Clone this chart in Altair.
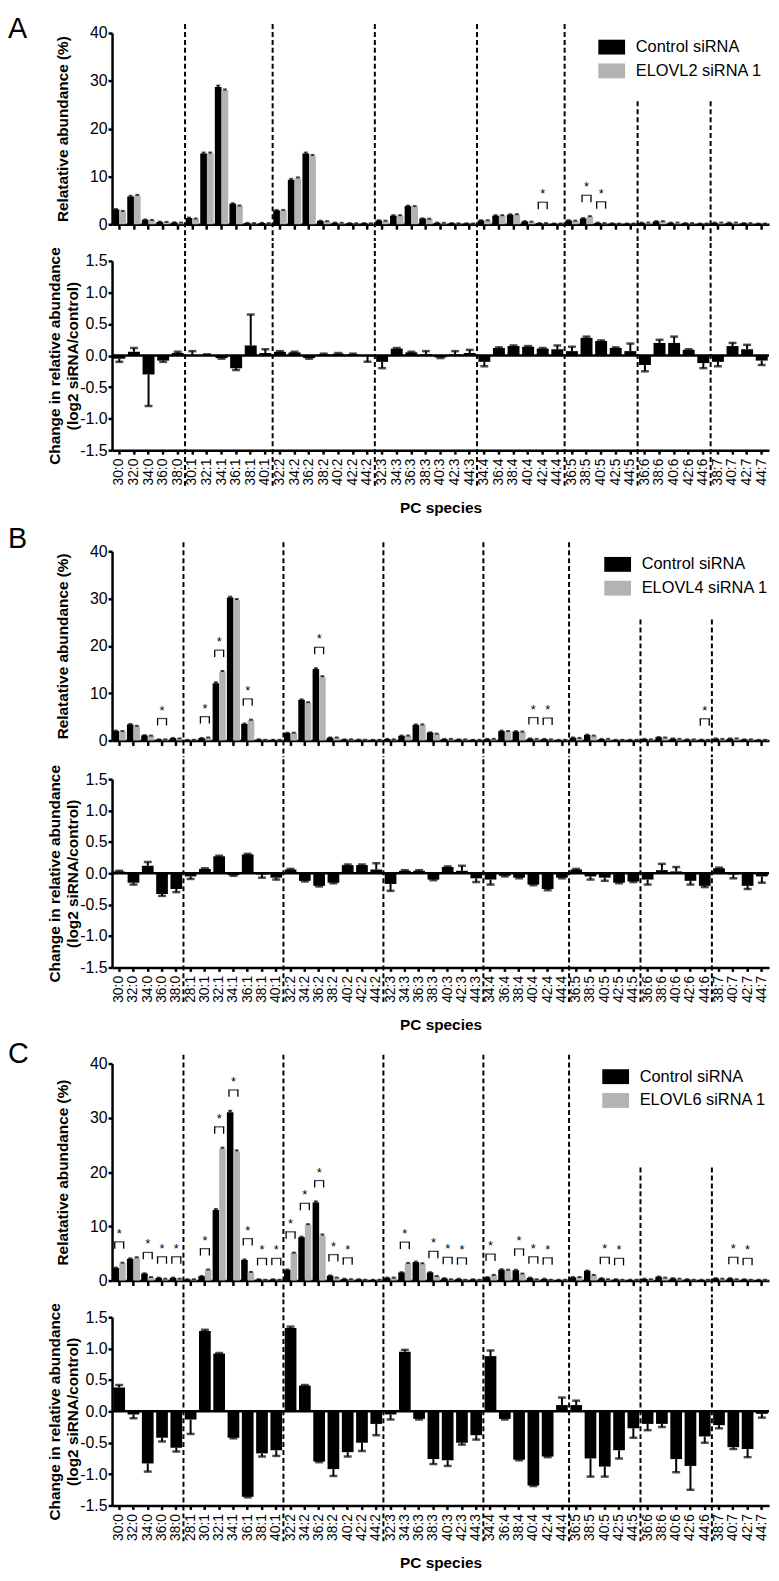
import altair as alt
import pandas as pd

FONT = "Liberation Sans"
GREY = "#b3b3b3"
LAB_C = "Control siRNA"

cats_A = ["30:0", "32:0", "34:0", "36:0", "38:0",
          "30:1", "32:1", "34:1", "36:1", "38:1", "40:1",
          "32:2", "34:2", "36:2", "38:2", "40:2", "42:2", "44:2",
          "32:3", "34:3", "36:3", "38:3", "40:3", "42:3", "44:3",
          "34:4", "36:4", "38:4", "40:4", "42:4", "44:4",
          "36:5", "38:5", "40:5", "42:5", "44:5",
          "36:6", "38:6", "40:6", "42:6", "44:6",
          "38:7", "40:7", "42:7", "44:7"]
cats_BC = ["30:0", "32:0", "34:0", "36:0", "38:0",
           "28:1", "30:1", "32:1", "34:1", "36:1", "38:1", "40:1",
           "32:2", "34:2", "36:2", "38:2", "40:2", "42:2", "44:2",
           "32:3", "34:3", "36:3", "38:3", "40:3", "42:3", "44:3",
           "34:4", "36:4", "38:4", "40:4", "42:4", "44:4",
           "36:5", "38:5", "40:5", "42:5", "44:5",
           "36:6", "38:6", "40:6", "42:6", "44:6",
           "38:7", "40:7", "42:7", "44:7"]

seps_A = ["30:1", "32:2", "32:3", "34:4", "36:5"]
short_A = ["36:6", "38:7"]
seps_BC = ["28:1", "32:2", "32:3", "34:4", "36:5"]
short_BC = ["36:6", "38:7"]

# ---------------- Panel A ----------------
ctrl_A = [3.1, 5.8, 0.95, 0.5, 0.35,
          1.3, 14.8, 28.7, 4.3, 0.25, 0.25,
          2.9, 9.3, 14.8, 0.7, 0.3, 0.2, 0.2,
          0.8, 1.8, 3.8, 1.2, 0.3, 0.2, 0.15,
          0.8, 1.8, 2.0, 0.6, 0.2, 0.1,
          0.8, 1.2, 0.3, 0.15, 0.1,
          0.3, 0.6, 0.3, 0.2, 0.1,
          0.3, 0.3, 0.2, 0.1]
sirna_A = [2.7, 6.0, 0.85, 0.45, 0.3,
           1.1, 14.8, 28.0, 3.8, 0.2, 0.2,
           2.9, 9.6, 14.3, 0.6, 0.25, 0.15, 0.15,
           0.7, 1.8, 3.7, 1.1, 0.25, 0.15, 0.1,
           0.8, 1.8, 2.0, 0.5, 0.2, 0.1,
           0.7, 1.6, 0.2, 0.1, 0.1,
           0.3, 0.6, 0.3, 0.2, 0.1,
           0.3, 0.3, 0.2, 0.1]
ctrl_err_A = [0.1, 0.15, 0.05, 0.05, 0.05,
              0.1, 0.2, 0.3, 0.1, 0.05, 0.05,
              0.1, 0.2, 0.2, 0.05, 0.05, 0.05, 0.05,
              0.05, 0.1, 0.1, 0.05, 0.05, 0.05, 0.05,
              0.05, 0.1, 0.1, 0.05, 0.05, 0.05,
              0.05, 0.1, 0.05, 0.05, 0.05,
              0.05, 0.05, 0.05, 0.05, 0.05,
              0.05, 0.05, 0.05, 0.05]
sirna_err_A = [0.1, 0.15, 0.05, 0.05, 0.05,
               0.1, 0.2, 0.2, 0.1, 0.05, 0.05,
               0.1, 0.2, 0.2, 0.05, 0.05, 0.05, 0.05,
               0.05, 0.1, 0.1, 0.05, 0.05, 0.05, 0.05,
               0.05, 0.1, 0.1, 0.05, 0.05, 0.05,
               0.05, 0.1, 0.05, 0.05, 0.05,
               0.05, 0.05, 0.05, 0.05, 0.05,
               0.05, 0.05, 0.05, 0.05]
log2_A = [-0.05, 0.06, -0.3, -0.08, 0.04,
          0.01, 0.01, -0.04, -0.2, 0.16, 0.04,
          0.06, 0.05, -0.04, 0.02, 0.03, 0.02, -0.01,
          -0.1, 0.11, 0.05, 0.02, -0.03, 0.02, 0.04,
          -0.1, 0.12, 0.15, 0.14, 0.11, 0.1,
          0.07, 0.28, 0.23, 0.12, 0.07,
          -0.15, 0.2, 0.2, 0.09, -0.12,
          -0.1, 0.15, 0.1, -0.08]
log2_err_A = [0.05, 0.06, 0.5, 0.02, 0.02,
              0.06, 0.01, 0.01, 0.03, 0.49, 0.06,
              0.01, 0.01, 0.01, 0.01, 0.01, 0.01, 0.09,
              0.1, 0.01, 0.01, 0.05, 0.01, 0.05, 0.05,
              0.07, 0.01, 0.01, 0.01, 0.01, 0.06,
              0.07, 0.02, 0.01, 0.01, 0.12,
              0.1, 0.05, 0.1, 0.01, 0.08,
              0.07, 0.05, 0.07, 0.07]
sig_A = ["42:4", "38:5", "40:5"]

# ---------------- Panel B ----------------
ctrl_B = [2.0, 3.4, 1.1, 0.2, 0.5,
          0.1, 0.5, 12.1, 30.2, 3.5, 0.2, 0.1,
          1.6, 8.6, 15.1, 0.6, 0.2, 0.15, 0.1,
          0.3, 1.0, 3.3, 1.7, 0.3, 0.2, 0.1,
          0.3, 2.0, 1.9, 0.4, 0.3, 0.1,
          0.6, 1.2, 0.3, 0.1, 0.1,
          0.3, 0.7, 0.4, 0.2, 0.15,
          0.4, 0.4, 0.2, 0.1]
sirna_B = [1.9, 3.0, 1.0, 0.2, 0.4,
           0.1, 0.6, 14.5, 29.7, 4.3, 0.1, 0.1,
           1.6, 8.0, 13.4, 0.6, 0.2, 0.1, 0.1,
           0.2, 1.0, 3.3, 1.4, 0.3, 0.2, 0.1,
           0.3, 1.9, 1.8, 0.3, 0.2, 0.1,
           0.5, 1.0, 0.3, 0.1, 0.1,
           0.2, 0.6, 0.3, 0.2, 0.1,
           0.3, 0.4, 0.2, 0.1]
ctrl_err_B = [0.1, 0.1, 0.05, 0.05, 0.05,
              0.05, 0.05, 0.2, 0.2, 0.1, 0.05, 0.05,
              0.05, 0.1, 0.2, 0.05, 0.05, 0.05, 0.05,
              0.05, 0.05, 0.1, 0.05, 0.05, 0.05, 0.05,
              0.05, 0.1, 0.1, 0.05, 0.05, 0.05,
              0.05, 0.05, 0.05, 0.05, 0.05,
              0.05, 0.05, 0.05, 0.05, 0.05,
              0.05, 0.05, 0.05, 0.05]
sirna_err_B = [0.1, 0.1, 0.05, 0.05, 0.05,
               0.05, 0.05, 0.2, 0.2, 0.1, 0.05, 0.05,
               0.05, 0.1, 0.2, 0.05, 0.05, 0.05, 0.05,
               0.05, 0.05, 0.1, 0.05, 0.05, 0.05, 0.05,
               0.05, 0.1, 0.1, 0.05, 0.05, 0.05,
               0.05, 0.05, 0.05, 0.05, 0.05,
               0.05, 0.05, 0.05, 0.05, 0.05,
               0.05, 0.05, 0.05, 0.05]
log2_B = [0.03, -0.15, 0.12, -0.33, -0.25,
          -0.05, 0.07, 0.27, -0.03, 0.3, -0.02, -0.07,
          0.06, -0.12, -0.2, -0.15, 0.13, 0.13, 0.06,
          -0.17, 0.04, 0.04, -0.1, 0.1, 0.04, -0.08,
          -0.1, -0.04, -0.07, -0.18, -0.25, -0.07,
          0.06, -0.05, -0.07, -0.15, -0.13,
          -0.1, 0.05, 0.03, -0.12, -0.2,
          0.08, -0.02, -0.2, -0.05]
log2_err_B = [0.01, 0.03, 0.06, 0.03, 0.05,
              0.04, 0.01, 0.01, 0.01, 0.01, 0.05, 0.03,
              0.01, 0.01, 0.01, 0.01, 0.01, 0.01, 0.1,
              0.11, 0.01, 0.01, 0.01, 0.01, 0.08, 0.06,
              0.08, 0.01, 0.01, 0.01, 0.02, 0.01,
              0.01, 0.05, 0.05, 0.01, 0.01,
              0.08, 0.1, 0.07, 0.06, 0.02,
              0.01, 0.06, 0.05, 0.1]
sig_B = ["36:0", "30:1", "32:1", "36:1", "36:2", "40:4", "42:4", "44:6"]

# ---------------- Panel C ----------------
ctrl_C = [2.3, 4.0, 1.3, 0.5, 0.5,
          0.2, 0.8, 13.0, 31.0, 3.8, 0.2, 0.2,
          2.0, 8.0, 14.4, 0.9, 0.3, 0.2, 0.1,
          0.5, 1.5, 3.4, 1.5, 0.4, 0.3, 0.2,
          0.6, 2.0, 1.9, 0.5, 0.3, 0.1,
          0.6, 1.8, 0.4, 0.2, 0.1,
          0.3, 0.7, 0.4, 0.2, 0.1,
          0.4, 0.4, 0.2, 0.1]
sirna_C = [3.2, 4.2, 0.6, 0.3, 0.3,
           0.2, 2.0, 24.3, 23.8, 1.5, 0.1, 0.1,
           5.1, 10.3, 8.3, 0.5, 0.2, 0.1, 0.1,
           0.5, 3.2, 3.1, 0.8, 0.2, 0.1, 0.1,
           1.0, 1.9, 1.2, 0.2, 0.1, 0.1,
           0.6, 1.0, 0.2, 0.1, 0.1,
           0.2, 0.5, 0.3, 0.1, 0.1,
           0.3, 0.2, 0.1, 0.1]
ctrl_err_C = [0.1, 0.1, 0.05, 0.05, 0.05,
              0.05, 0.05, 0.2, 0.3, 0.1, 0.05, 0.05,
              0.05, 0.1, 0.2, 0.05, 0.05, 0.05, 0.05,
              0.05, 0.05, 0.1, 0.05, 0.05, 0.05, 0.05,
              0.05, 0.1, 0.1, 0.05, 0.05, 0.05,
              0.05, 0.05, 0.05, 0.05, 0.05,
              0.05, 0.05, 0.05, 0.05, 0.05,
              0.05, 0.05, 0.05, 0.05]
sirna_err_C = [0.1, 0.1, 0.05, 0.05, 0.05,
               0.05, 0.05, 0.2, 0.2, 0.1, 0.05, 0.05,
               0.05, 0.1, 0.2, 0.05, 0.05, 0.05, 0.05,
               0.05, 0.05, 0.1, 0.05, 0.05, 0.05, 0.05,
               0.05, 0.1, 0.1, 0.05, 0.05, 0.05,
               0.05, 0.05, 0.05, 0.05, 0.05,
               0.05, 0.05, 0.05, 0.05, 0.05,
               0.05, 0.05, 0.05, 0.05]
log2_C = [0.38, -0.05, -0.83, -0.42, -0.58,
          -0.13, 1.28, 0.92, -0.42, -1.36, -0.67, -0.62,
          1.33, 0.41, -0.8, -0.92, -0.65, -0.5, -0.2,
          -0.05, 0.95, -0.12, -0.76, -0.78, -0.5, -0.38,
          0.88, -0.12, -0.77, -1.18, -0.72, 0.1,
          0.1, -0.75, -0.88, -0.62, -0.27,
          -0.2, -0.2, -0.76, -0.87, -0.4,
          -0.22, -0.57, -0.6, -0.04]
log2_err_C = [0.04, 0.06, 0.13, 0.06, 0.06,
              0.23, 0.02, 0.01, 0.01, 0.01, 0.05, 0.09,
              0.02, 0.01, 0.01, 0.11, 0.07, 0.13, 0.18,
              0.08, 0.03, 0.01, 0.08, 0.09, 0.03, 0.07,
              0.09, 0.01, 0.01, 0.01, 0.01, 0.12,
              0.07, 0.29, 0.16, 0.13, 0.15,
              0.1, 0.05, 0.21, 0.38, 0.1,
              0.05, 0.03, 0.13, 0.06]
sig_C = ["30:0", "34:0", "36:0", "38:0",
         "30:1", "32:1", "34:1", "36:1", "38:1", "40:1",
         "32:2", "34:2", "36:2", "38:2", "40:2",
         "34:3", "38:3", "40:3", "42:3",
         "34:4", "38:4", "40:4", "42:4",
         "40:5", "42:5", "40:7", "42:7"]

W = 663


def make_top(cats, ctrl, sirna, ctrl_err, sirna_err, sig, lab_s, letter, H,
             seps, shorts, short_top, letter_y, spacer_top, leg_x, leg_y):
    rows = []
    for c, v1, v2, e1, e2 in zip(cats, ctrl, sirna, ctrl_err, sirna_err):
        rows.append(dict(cat=c, grp=LAB_C, val=v1, hi=v1 + e1))
        rows.append(dict(cat=c, grp=lab_s, val=v2, hi=v2 + e2))
    df = pd.DataFrame(rows)
    sig_rows = []
    for c, v1, v2, e1, e2 in zip(cats, ctrl, sirna, ctrl_err, sirna_err):
        if c in sig:
            sig_rows.append(dict(cat=c, base=max(v1 + e1, v2 + e2), star="*"))
    sdf = pd.DataFrame(sig_rows)

    xsc = alt.Scale(domain=cats, paddingInner=0, paddingOuter=0)
    xax = alt.Axis(title=None, labels=False, ticks=True, tickSize=5, tickWidth=2.5,
                   domainWidth=2.5, grid=False)

    def X(**kw):
        return alt.X("cat:N", scale=xsc, axis=xax, **kw)

    ysc = alt.Scale(domain=[0, 40], nice=False)
    yax = alt.Axis(values=[0, 10, 20, 30, 40], title="Relatative abundance (%)",
                   titleX=-50, titleY=H / 2, titleAngle=270, titleAlign="center",
                   titleBaseline="middle", titleFontSize=15.5, titleFontWeight="bold",
                   labelFontSize=16, labelPadding=1, tickSize=4, tickWidth=2.5,
                   domainWidth=2.5, grid=False)

    def Y(f):
        return alt.Y(f"{f}:Q", scale=ysc, axis=yax)

    xo = alt.XOffset("grp:N", scale=alt.Scale(domain=[LAB_C, lab_s], paddingInner=0,
                                             paddingOuter=0.09))
    col = alt.Color("grp:N", scale=alt.Scale(domain=[LAB_C, lab_s], range=["black", GREY]),
                    legend=alt.Legend(title=None, orient="none", legendX=leg_x, legendY=leg_y,
                                      symbolType="M-1.8,-1H1.8V1H-1.8Z", symbolSize=225,
                                      symbolStrokeWidth=0, symbolOpacity=1,
                                      labelFont=FONT, labelFontSize=16.5, labelColor="black",
                                      labelOffset=16, rowPadding=7, padding=0))
    base = alt.Chart(df)
    bars = base.mark_bar().encode(x=X(), xOffset=xo, y=Y("val"), color=col)
    err = base.mark_rule(color="black", strokeWidth=1.5).encode(
        x=X(), xOffset=xo, y=Y("val"), y2=alt.Y2("hi"))
    cap = base.mark_tick(color="black", orient="horizontal", size=4, thickness=2).encode(
        x=X(), xOffset=xo, y=Y("hi"))

    sb = alt.Chart(sdf)
    legL = sb.mark_rule(color="black", strokeWidth=1.3, xOffset=-4.5, yOffset=-14,
                        y2Offset=-21).encode(x=X(), y=Y("base"), y2=alt.Y2("base"))
    legR = sb.mark_rule(color="black", strokeWidth=1.3, xOffset=4.5, yOffset=-14,
                        y2Offset=-21).encode(x=X(), y=Y("base"), y2=alt.Y2("base"))
    topb = sb.mark_tick(color="black", orient="horizontal", size=10.3, thickness=1.3,
                        yOffset=-21).encode(x=X(), y=Y("base"))
    star = sb.mark_text(color="black", font=FONT, fontSize=13, baseline="alphabetic",
                        dy=-25).encode(x=X(), y=Y("base"), text="star:N")

    sep_long = alt.Chart(pd.DataFrame({"cat": seps})).mark_rule(
        color="black", strokeWidth=2, strokeDash=[5, 3]).encode(
        x=X(bandPosition=0), y=alt.value(-9), y2=alt.value(H + 17))
    sep_short = alt.Chart(pd.DataFrame({"cat": shorts})).mark_rule(
        color="black", strokeWidth=2, strokeDash=[5, 3]).encode(
        x=X(bandPosition=0), y=alt.value(short_top), y2=alt.value(H + 17))

    let = alt.Chart(pd.DataFrame({"t": [letter]})).mark_text(
        align="left", baseline="top", font=FONT, fontSize=29, color="black").encode(
        x=alt.value(-105), y=alt.value(letter_y), text="t:N")
    spacer = alt.Chart(pd.DataFrame({"t": [letter]})).mark_rule(strokeOpacity=0).encode(
        x=alt.value(0), y=alt.value(spacer_top), y2=alt.value(0))

    return alt.layer(bars, err, cap, legL, legR, topb, star, sep_long, sep_short, let,
                     spacer).properties(width=W, height=H)


def make_bottom(cats, vals, errs, H, seps, shorts, dash_top):
    rows = []
    for c, v, e in zip(cats, vals, errs):
        rows.append(dict(cat=c, v=v, e=(v + e) if v >= 0 else (v - e)))
    df = pd.DataFrame(rows)
    xsc = alt.Scale(domain=cats, paddingInner=0, paddingOuter=0)
    xax = alt.Axis(title="PC species", labelAngle=270, labelFontSize=14, labelPadding=4,
                   tickSize=4, tickWidth=2.5, domainWidth=2.5, grid=False,
                   titleFontSize=15.5, titleFontWeight="bold", titleY=58,
                   titleBaseline="middle")

    def X(**kw):
        return alt.X("cat:N", scale=xsc, axis=xax, **kw)

    ysc = alt.Scale(domain=[-1.5, 1.5], nice=False, zero=False)
    yax = alt.Axis(values=[-1.5, -1.0, -0.5, 0.0, 0.5, 1.0, 1.5],
                   labelExpr="(datum.value < 0 ? '-' : '') + format(abs(datum.value), '.1f')",
                   title=["Change in relative abundance", "(log2 siRNA/control)"],
                   titleX=-58, titleY=H / 2, titleAngle=270, titleAlign="center",
                   titleBaseline="middle", titleLineHeight=18, titleFontSize=15.5,
                   titleFontWeight="bold", labelFontSize=16, labelPadding=1, tickSize=4,
                   tickWidth=2.5, domainWidth=2.5, grid=False)

    def Y(f):
        return alt.Y(f"{f}:Q", scale=ysc, axis=yax)

    base = alt.Chart(df)
    bars = base.mark_bar(color="black", width=alt.RelativeBandSize(0.82)).encode(
        x=X(), y=Y("v"))
    err = base.mark_rule(color="black", strokeWidth=2).encode(x=X(), y=Y("v"), y2=alt.Y2("e"))
    cap = base.mark_tick(color="black", orient="horizontal", size=8, thickness=2.5).encode(
        x=X(), y=Y("e"))
    zero = alt.Chart(pd.DataFrame({"z": [0.0]})).mark_rule(color="black", strokeWidth=2.5).encode(
        y=Y("z"))
    sep = alt.Chart(pd.DataFrame({"cat": seps + shorts})).mark_rule(
        color="black", strokeWidth=2, strokeDash=[5, 3]).encode(
        x=X(bandPosition=0), y=alt.value(dash_top), y2=alt.value(H + 36))
    spacer = alt.Chart(pd.DataFrame({"z": [0.0]})).mark_rule(strokeOpacity=0).encode(
        x=alt.value(0), y=alt.value(0), y2=alt.value(H + 72))
    return alt.layer(bars, err, cap, zero, sep, spacer).properties(width=W, height=H)


topA = make_top(cats_A, ctrl_A, sirna_A, ctrl_err_A, sirna_err_A, sig_A, "ELOVL2 siRNA 1", "A",
                193, seps_A, short_A, 69, -18, -18, 496, 6)
botA = make_bottom(cats_A, log2_A, log2_err_A, 191, seps_A, short_A, -18)
topB = make_top(cats_BC, ctrl_B, sirna_B, ctrl_err_B, sirna_err_B, sig_B, "ELOVL4 siRNA 1", "B",
                191, seps_BC, short_BC, 69, -26, -30, 502, 5)
botB = make_bottom(cats_BC, log2_B, log2_err_B, 190, seps_BC, short_BC, -20)
topC = make_top(cats_BC, ctrl_C, sirna_C, ctrl_err_C, sirna_err_C, sig_C, "ELOVL6 siRNA 1", "C",
                219, seps_BC, short_BC, 105, -24, -25, 500, 5)
botC = make_bottom(cats_BC, log2_C, log2_err_C, 190, seps_BC, short_BC, -18)

chart = alt.vconcat(topA, botA, topB, botB, topC, botC, spacing=0).resolve_scale(
    x="independent", y="independent", color="independent", xOffset="independent"
).properties(
    padding={"left": 0, "top": 0, "right": 0, "bottom": 0}
).configure_axis(
    labelFont=FONT, titleFont=FONT, labelColor="black", titleColor="black",
    domainColor="black", tickColor="black", grid=False
).configure_view(strokeWidth=0)

chart.save("out.html", embed_options={"renderer": "svg", "actions": False})
